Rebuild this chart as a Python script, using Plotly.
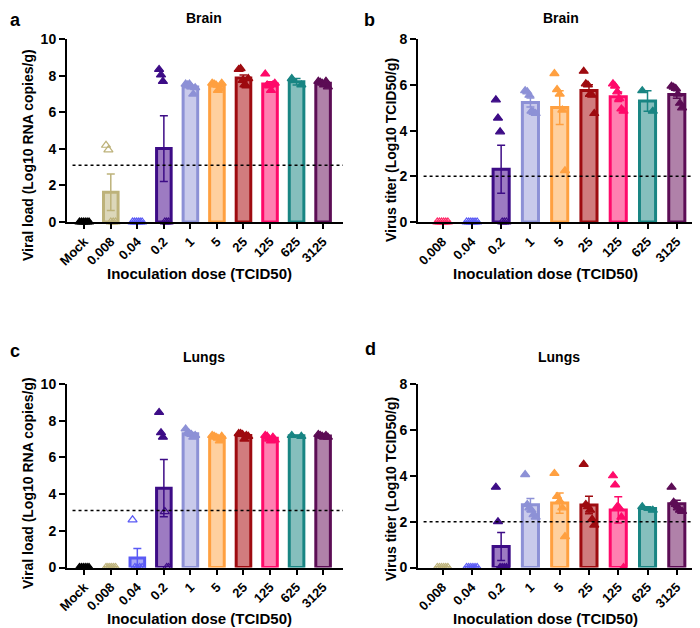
import numpy as np
import plotly.graph_objects as go

# dose groups (TCID50)
doses_rna = ['Mock', '0.008', '0.04', '0.2', '1', '5', '25', '125', '625', '3125']
doses_titer = ['0.008', '0.04', '0.2', '1', '5', '25', '125', '625', '3125']

# a: brain viral load (log10 RNA copies/g), one list per dose
brain_rna = [
    [0, 0, 0, 0, 0, 0],
    [4.2, 3.95, 0, 0, 0],
    [0, 0, 0, 0, 0, 0],
    [8.35, 8.05, 7.7, 0, 0, 0],
    [7.55, 7.5, 7.55, 7.4, 7.0, 7.35],
    [7.6, 7.55, 7.5, 7.2, 7.3, 7.6],
    [8.35, 8.4, 7.75, 7.5, 7.45, 7.85],
    [8.1, 7.5, 7.45, 7.2, 7.5, 7.6],
    [7.85, 7.5],
    [7.7, 7.65, 7.6, 7.5, 7.7, 7.4],
]
# b: brain virus titer (log10 TCID50/g)
brain_titer = [
    [0, 0, 0, 0, 0, 0],
    [0, 0, 0, 0, 0, 0],
    [5.35, 4.55, 3.95, 0, 0, 0],
    [5.75, 5.7, 5.55, 4.85, 4.8, 4.75],
    [6.5, 5.8, 5.6, 4.9, 2.25],
    [6.6, 6.05, 6.0, 5.6, 5.55, 4.75],
    [6.05, 5.95, 5.7, 5.4, 4.95, 4.85],
    [5.75, 4.85],
    [5.95, 5.9, 5.85, 5.6, 5.2, 5.0],
]
# c: lung viral load
lung_rna = [
    [0, 0, 0, 0, 0, 0],
    [0, 0, 0, 0, 0, 0],
    [2.6, 0, 0, 0, 0],
    [8.45, 7.35, 7.1, 3.05, 0, 0],
    [7.55, 7.35, 7.3, 7.25, 7.1, 7.2],
    [7.2, 7.15, 7.1, 7.05, 6.9, 7.15],
    [7.3, 7.3, 7.25, 7.0, 7.2, 7.15],
    [7.2, 7.15, 7.0, 6.9, 7.1, 6.95],
    [7.2, 7.15],
    [7.25, 7.2, 7.15, 7.1, 7.2, 7.1],
]
# d: lung virus titer
lung_titer = [
    [0, 0, 0, 0, 0, 0],
    [0, 0, 0, 0, 0, 0],
    [3.5, 2.0, 0, 0, 0, 0],
    [4.05, 2.75, 2.6, 2.5, 2.3, 2.2],
    [4.1, 3.1, 2.9, 2.6, 1.35],
    [4.5, 2.75, 2.65, 2.5, 2.1, 1.85],
    [4.0, 3.6, 2.65, 2.6, 2.2, 0],
    [2.65, 2.5],
    [3.5, 2.85, 2.75, 2.6, 2.5, 2.45],
]

lod_rna = 3.1
lod_titer = 2.0

line_colors = {'Mock': '#000000', '0.008': '#BDB27A', '0.04': '#5A5AF5', '0.2': '#3D0C86',
               '1': '#8D91D6', '5': '#FFA040', '25': '#9E0B10', '125': '#FF0A6A',
               '625': '#198583', '3125': '#5C0D55'}
fill_colors = {'Mock': '#000000', '0.008': '#DCD7BA', '0.04': '#A9A9F5', '0.2': '#9D7BC2',
               '1': '#C9CAEB', '5': '#FFD09E', '25': '#D17C7E', '125': '#FF80B1',
               '625': '#85BFBD', '3125': '#B081A9'}

FONT = 'Liberation Sans, Arial, sans-serif'
W, H = 700, 628
OFF = 8  # the page body sits 8px in from the window corner

fig = go.Figure()


def px_x(p):
    return (p - OFF) / W


def px_y(p):
    return 1 - (p - OFF) / H


def add_panel(n, labels, data, lod, ymax, xdom, ydom, xrange, hollow_zero=True, override=None):
    xa = 'x' if n == 1 else f'x{n}'
    ya = 'y' if n == 1 else f'y{n}'
    override = override or {}
    for i, (lab, vals) in enumerate(zip(labels, data)):
        lc = override.get(lab, line_colors[lab])
        fc = override.get(lab + '_fill', fill_colors[lab])
        v = np.array(vals, dtype=float)
        mean = v.mean()
        sem = v.std(ddof=1) / np.sqrt(len(v))
        fig.add_trace(go.Bar(
            x=[i], y=[mean], width=0.55, xaxis=xa, yaxis=ya, cliponaxis=False,
            marker=dict(color=fc, line=dict(color=lc, width=3)),
            error_y=dict(type='data', array=[sem], color=lc, thickness=1.5, width=4),
            hoverinfo='skip'))
        offs = np.linspace(-0.18, 0.18, len(v)) if len(v) > 1 else np.array([0.0])
        hollow = [lab in ('0.008', '0.04') or (lab == '0.2' and hollow_zero and y < lod) for y in v]
        fig.add_trace(go.Scatter(
            x=i + offs, y=v, mode='markers', xaxis=xa, yaxis=ya, cliponaxis=False,
            marker=dict(symbol=['triangle-up-open' if h else 'triangle-up' for h in hollow],
                        size=8, color=lc, line=dict(color=lc, width=1.2)),
            hoverinfo='skip'))
    fig.add_shape(type='line', xref=f'{xa} domain', yref=ya, x0=0.02, x1=1, y0=lod, y1=lod,
                  line=dict(color='black', width=1.5, dash='dot'))
    key = 'xaxis' if n == 1 else f'xaxis{n}'
    keyy = 'yaxis' if n == 1 else f'yaxis{n}'
    fig.layout[key] = dict(
        domain=xdom, anchor=ya, range=xrange, tickvals=list(range(len(labels))), ticktext=labels,
        tickangle=-45, showline=True, linewidth=2, linecolor='black', ticks='outside',
        ticklen=5, tickwidth=1.5, tickcolor='black', showgrid=False, zeroline=False,
        automargin=False,
        tickfont=dict(family=FONT, size=13, color='black', weight='bold'))
    fig.layout[keyy] = dict(
        domain=ydom, anchor=xa, range=[0, ymax], dtick=2, showline=True, linewidth=2,
        linecolor='black', ticks='outside', ticklen=6, tickwidth=2, tickcolor='black',
        showgrid=False, zeroline=False, automargin=False,
        tickfont=dict(family=FONT, size=14, color='black', weight='bold'))


top_dom = [px_y(222), px_y(39.3)]
bot_dom = [px_y(567.5), px_y(384)]
left_dom = [px_x(67), px_x(343)]
right_dom = [px_x(418), px_x(697)]

add_panel(1, doses_rna, brain_rna, lod_rna, 10, left_dom, top_dom, [-0.65, 9.75])
add_panel(2, doses_titer, brain_titer, lod_titer, 8, right_dom, top_dom, [-0.84, 8.69],
          override={'0.008': '#FF2A68', '0.008_fill': '#FF9AB5'})
add_panel(3, doses_rna, lung_rna, lod_rna, 10, left_dom, bot_dom, [-0.65, 9.75])
add_panel(4, doses_titer, lung_titer, lod_titer, 8, right_dom, bot_dom, [-0.84, 8.69],
          hollow_zero=False)


def note(text, x, y, size=13, angle=0, xanchor='center', yanchor='middle'):
    fig.add_annotation(text=text, x=px_x(x), y=px_y(y), xref='paper', yref='paper',
                       showarrow=False, textangle=angle, xanchor=xanchor, yanchor=yanchor,
                       font=dict(family=FONT, size=size, color='black', weight='bold'))


# top row texts pinned to the top edge so they are not cut off
note('Brain', 204, 8, size=14, yanchor='top')
note('Brain', 561, 8, size=14, yanchor='top')
note('Lungs', 204, 357, size=14)
note('Lungs', 559, 357, size=14)
note('a', 8, 8, size=18, xanchor='left', yanchor='top')
note('b', 369, 8, size=18, yanchor='top')
note('c', 8, 351, size=18, xanchor='left')
note('d', 370, 349, size=18)
note('Viral load (Log10 RNA copies/g)', 28, 155, size=14, angle=-90)
note('Virus titer (Log10 TCID50/g)', 391, 150, size=14, angle=-90)
note('Viral load (Log10 RNA copies/g)', 28, 483, size=14, angle=-90)
note('Virus titer (Log10 TCID50/g)', 391, 489, size=14, angle=-90)
note('Inoculation dose (TCID50)', 199, 273, size=15)
note('Inoculation dose (TCID50)', 545, 273, size=15)
note('Inoculation dose (TCID50)', 199, 618, size=15)
note('Inoculation dose (TCID50)', 545, 618, size=15)

fig.update_layout(width=W, height=H, margin=dict(l=0, r=0, t=0, b=0, autoexpand=False),
                  showlegend=False,
                  barmode='overlay', plot_bgcolor='white', paper_bgcolor='white',
                  font=dict(family=FONT, color='black'))

fig.write_html("out.html")
